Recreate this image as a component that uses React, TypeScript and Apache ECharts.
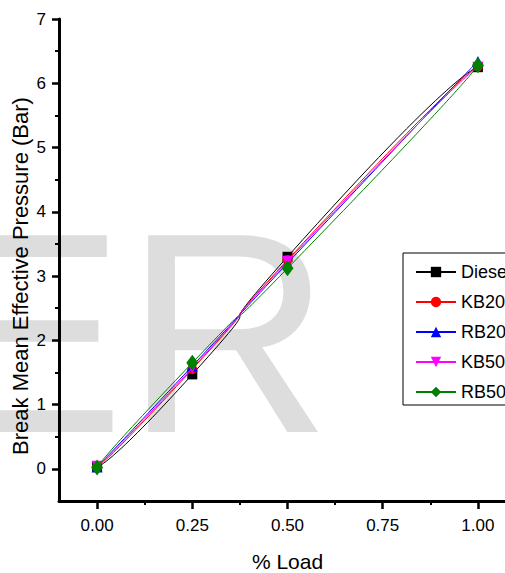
import React, { useEffect, useRef } from "react";
import * as echarts from "echarts";

const loads = [0, 0.25, 0.5, 1.0];
const diesel = [0.03, 1.47, 3.3, 6.25];
const kb20 = [0.03, 1.55, 3.25, 6.26];
const rb20 = [0.03, 1.6, 3.2, 6.34];
const kb50 = [0.04, 1.57, 3.23, 6.25];
const rb50 = [0.02, 1.65, 3.12, 6.28];

const xTicks = [0, 0.25, 0.5, 0.75, 1.0];
const xMinorTicks = [0.125, 0.375, 0.625, 0.875];
const yTicks = [0, 1, 2, 3, 4, 5, 6, 7];
const yMinorTicks = [0.5, 1.5, 2.5, 3.5, 4.5, 5.5, 6.5];

const seriesNames = ["Diesel", "KB20", "RB20", "KB50", "RB50"];
const seriesValues = [diesel, kb20, rb20, kb50, rb50];
const seriesColors = ["#000000", "#ff0000", "#0000ff", "#ff00ff", "#008000"];
const seriesSymbols = ["rect", "circle", "triangle", "triangle", "diamond"];
const seriesRotate = [0, 0, 0, 180, 0];
const seriesSizes: any[] = [10, 10, 11, 11, [12, 16]];

const FONT = "Liberation Sans, Arial, sans-serif";

export default function App() {
  const ref = useRef<HTMLDivElement>(null);
  useEffect(() => {
    if (!ref.current) return;
    const chart = echarts.init(ref.current, undefined, { renderer: "svg" });
    const axisCommon = {
      type: "value" as const,
      splitLine: { show: false },
    };
    const option: any = {
      animation: false,
      backgroundColor: "#ffffff",
      textStyle: { fontFamily: FONT },
      grid: {
        left: 59,
        top: 19,
        width: 457,
        height: 482,
        containLabel: false,
        outerBoundsMode: "none",
      },
      graphic: [
        {
          type: "text",
          z: -10,
          silent: true,
          x: -66,
          y: 333,
          style: {
            text: "ER",
            fontSize: 286,
            fontFamily: FONT,
            fill: "#dddddd",
            textAlign: "left",
            textVerticalAlign: "middle",
          },
        },
        {
          type: "text",
          x: 20,
          y: 276,
          rotation: Math.PI / 2,
          style: {
            text: "Break Mean Effective Pressure (Bar)",
            fontSize: 22,
            fontFamily: FONT,
            fill: "#000000",
            textAlign: "center",
            textVerticalAlign: "middle",
          },
        },
      ],
      legend: {
        orient: "vertical",
        left: 403,
        top: 253,
        padding: [10, 10, 4, 12],
        borderColor: "#000000",
        borderWidth: 1,
        backgroundColor: "#ffffff",
        itemWidth: 40,
        itemHeight: 13,
        itemGap: 12,
        data: seriesNames,
        textStyle: { fontSize: 18, lineHeight: 17.5, color: "#000000", fontFamily: FONT },
      },
      xAxis: [
        {
          ...axisCommon,
          min: -0.1,
          max: 1.1,
          position: "bottom",
          name: "% Load",
          nameLocation: "middle",
          nameGap: 50,
          nameTextStyle: { fontSize: 21, color: "#000000", fontFamily: FONT },
          axisLine: { show: true, onZero: false, lineStyle: { color: "#000000", width: 3 } },
          axisTick: { show: true, customValues: xTicks, length: 8, lineStyle: { color: "#000000", width: 2.5 } },
          axisLabel: {
            show: true,
            customValues: xTicks,
            margin: 16,
            fontSize: 17,
            color: "#000000",
            fontFamily: FONT,
            formatter: (v: number) => v.toFixed(2),
          },
        },
        {
          ...axisCommon,
          min: -0.1,
          max: 1.1,
          position: "bottom",
          axisLine: { show: false, onZero: false },
          axisTick: { show: true, customValues: xMinorTicks, length: 4, lineStyle: { color: "#000000", width: 2 } },
          axisLabel: { show: false },
        },
      ],
      yAxis: [
        {
          ...axisCommon,
          min: -0.5,
          max: 7,
          position: "left",
          axisLine: { show: true, onZero: false, lineStyle: { color: "#000000", width: 3 } },
          axisTick: { show: true, customValues: yTicks, length: 7, lineStyle: { color: "#000000", width: 2.5 } },
          axisLabel: {
            show: true,
            customValues: yTicks,
            margin: 13,
            fontSize: 17,
            color: "#000000",
            fontFamily: FONT,
          },
        },
        {
          ...axisCommon,
          min: -0.5,
          max: 7,
          position: "left",
          axisLine: { show: false, onZero: false },
          axisTick: { show: true, customValues: yMinorTicks, length: 4, lineStyle: { color: "#000000", width: 2 } },
          axisLabel: { show: false },
        },
      ],
      series: seriesNames.map((name, i) => ({
        name,
        type: "line",
        xAxisIndex: 0,
        yAxisIndex: 0,
        smooth: 1,
        data: loads.map((x, j) => [x, seriesValues[i][j]]),
        symbol: seriesSymbols[i],
        symbolRotate: seriesRotate[i],
        symbolSize: seriesSizes[i],
        showAllSymbol: true,
        lineStyle: { color: seriesColors[i], width: 1 },
        itemStyle: { color: seriesColors[i] },
        z: 2 + i,
      })),
    };
    chart.setOption(option);
    return () => chart.dispose();
  }, []);
  return (
    <div
      ref={ref}
      style={{ position: "absolute", left: 0, top: 0, width: 505, height: 573 }}
    />
  );
}
